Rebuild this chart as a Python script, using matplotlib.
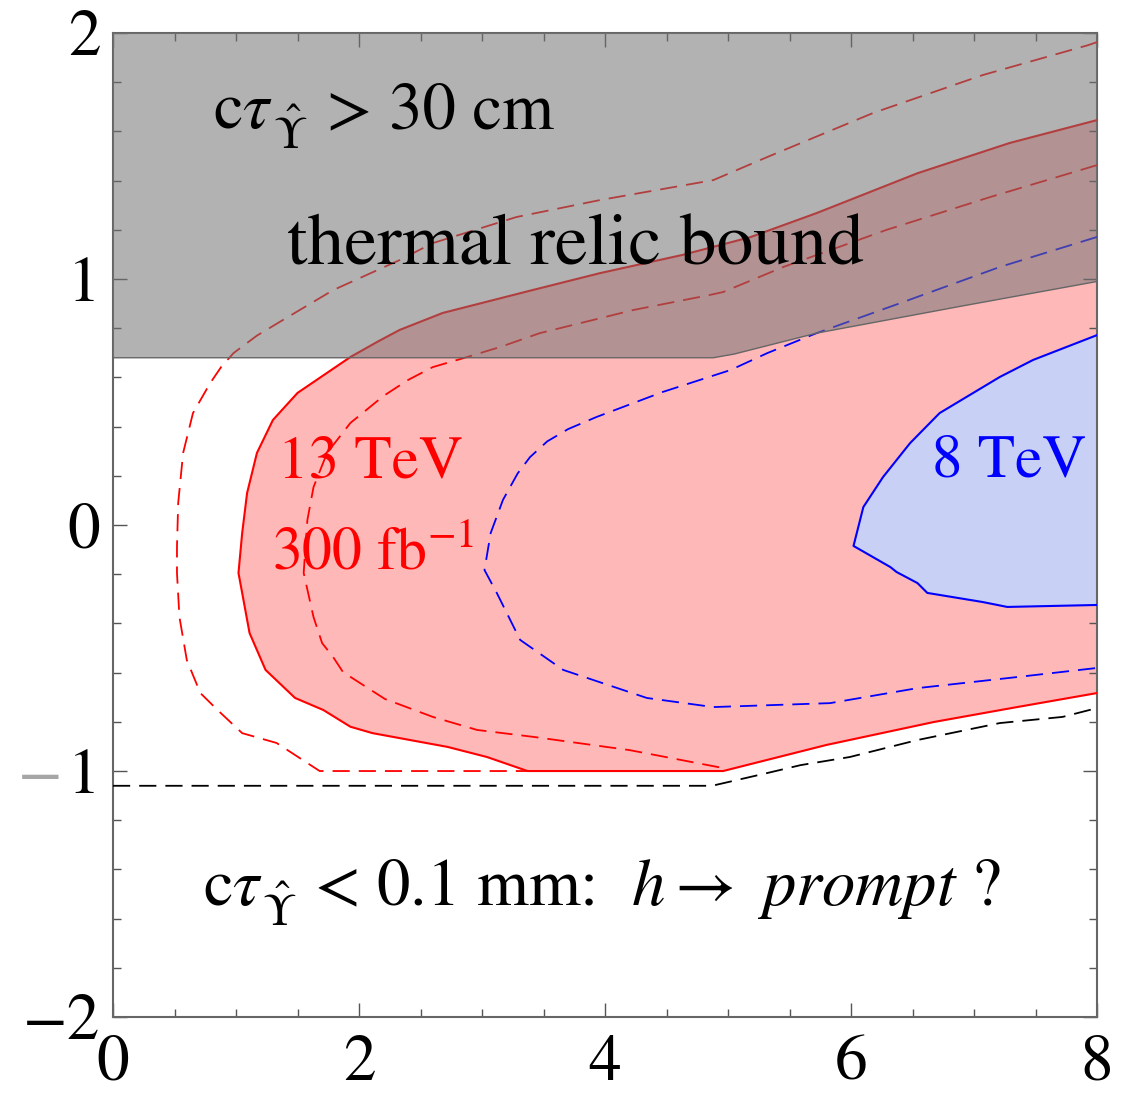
import numpy as np
import matplotlib
matplotlib.use("Agg")
import matplotlib.pyplot as plt
from matplotlib.ticker import MultipleLocator, FuncFormatter
from matplotlib.transforms import blended_transform_factory

plt.rcParams['font.family'] = ['STIXGeneral', 'DejaVu Serif']
plt.rcParams['mathtext.fontset'] = 'stix'

# -----------------------------
# Contours
# -----------------------------
# 13 TeV, 300 fb^-1 (solid, filled)
red13_x = [8.0, 7.29, 6.54, 5.72, 5.18, 4.63, 3.96, 3.41, 2.68, 2.33, 2.15, 1.93, 1.50, 1.30, 1.17,
           1.09, 1.05, 1.02, 1.05, 1.11, 1.24, 1.48, 1.71, 1.93, 2.11, 2.72, 3.04, 3.37, 4.96,
           5.80, 6.67, 7.35, 8.0]
red13_y = [1.646, 1.553, 1.43, 1.268, 1.17, 1.098, 1.024, 0.955, 0.862, 0.793, 0.745, 0.683, 0.537,
           0.427, 0.293, 0.13, -0.033, -0.195, -0.276, -0.439, -0.589, -0.703, -0.752, -0.82,
           -0.846, -0.902, -0.943, -1.0, -1.0, -0.894, -0.801, -0.74, -0.683]

# 13 TeV outer dashed
red_out_x = [8.0, 7.93, 7.07, 6.18, 5.32, 4.88, 3.96, 3.28, 2.60, 2.33, 1.79, 1.38, 1.17, 0.98,
             0.88, 0.79, 0.65, 0.57, 0.53, 0.52, 0.52, 0.54, 0.60, 0.71, 0.85, 1.05, 1.33, 1.68,
             3.37]
red_out_y = [1.963, 1.951, 1.829, 1.675, 1.496, 1.402, 1.321, 1.252, 1.146, 1.077, 0.955, 0.833,
             0.770, 0.699, 0.643, 0.577, 0.455, 0.293, 0.09, -0.089, -0.195, -0.374, -0.549,
             -0.683, -0.752, -0.846, -0.886, -1.0, -1.0]

# 13 TeV inner dashed
red_in_x = [8.0, 7.13, 6.29, 5.45, 4.96, 4.85, 4.23, 3.47, 3.15, 2.88, 2.60, 2.40, 2.20, 1.93,
            1.74, 1.63, 1.58, 1.55, 1.63, 1.70, 1.79, 1.87, 2.21, 2.60, 2.96, 3.43, 4.20, 4.93]
red_in_y = [1.463, 1.333, 1.20, 1.049, 0.947, 0.935, 0.874, 0.78, 0.724, 0.683, 0.642, 0.59,
            0.525, 0.415, 0.293, 0.154, 0.02, -0.195, -0.374, -0.48, -0.537, -0.598,
            -0.707, -0.78, -0.833, -0.862, -0.915, -0.985]

# 8 TeV (solid, filled)
blue8_x = [8.0, 7.48, 7.21, 6.72, 6.48, 6.26, 6.10, 6.02, 6.32, 6.37, 6.54, 6.62, 7.07, 7.27, 8.0]
blue8_y = [0.772, 0.671, 0.602, 0.455, 0.333, 0.195, 0.073, -0.085, -0.171, -0.191, -0.236,
           -0.276, -0.313, -0.333, -0.325]

# 8 TeV dashed
blue_d_x = [8.0, 7.21, 6.40, 5.72, 5.32, 5.02, 4.47, 3.93, 3.70, 3.53, 3.39, 3.29, 3.17, 3.07,
            3.02, 3.12, 3.31, 3.66, 4.34, 4.88, 5.83, 6.54, 7.35, 8.0]
blue_d_y = [1.171, 1.049, 0.902, 0.78, 0.699, 0.63, 0.541, 0.439, 0.39, 0.340, 0.276, 0.21,
            0.102, -0.033, -0.183, -0.276, -0.467, -0.589, -0.703, -0.74, -0.724, -0.663,
            -0.618, -0.581]

# ctau < 0.1 mm
prompt_x = [0.0, 4.87, 5.32, 5.59, 5.99, 6.54, 7.21, 7.72, 8.0]
prompt_y = [-1.06, -1.06, -1.008, -0.976, -0.943, -0.874, -0.805, -0.78, -0.744]

# ctau > 30 cm / thermal relic (lower edge of grey band)
relic_x = [0.0, 4.88, 5.05, 5.72, 6.9, 8.0]
relic_y = [0.68, 0.68, 0.695, 0.78, 0.89, 0.99]

# -----------------------------
# Figure
# -----------------------------
fig = plt.figure(figsize=(11.29, 10.93), dpi=100)
ax = fig.add_axes([0.1001, 0.0695, 0.8716, 0.9003])

ax.fill(red13_x, red13_y, color='#ffb8b8', lw=0, zorder=1)
ax.plot(red13_x, red13_y, color='red', lw=1.5, zorder=3)
ax.fill(blue8_x, blue8_y, color='#c8d0f5', lw=0, zorder=2)
ax.plot(blue8_x, blue8_y, color='blue', lw=1.5, zorder=3)

dash = (0, (9.5, 5))
ax.plot(red_out_x, red_out_y, color='red', lw=1.3, ls=dash, zorder=3)
ax.plot(red_in_x, red_in_y, color='red', lw=1.3, ls=dash, zorder=3)
ax.plot(blue_d_x, blue_d_y, color='blue', lw=1.3, ls=dash, zorder=3)
ax.plot(prompt_x, prompt_y, color='black', lw=1.3, ls=dash, zorder=3)

# grey band drawn on top, semi transparent
ax.fill(relic_x + [8.0, 0.0], relic_y + [2.0, 2.0], facecolor='#737373', alpha=0.55,
        lw=0, zorder=4)
ax.plot(relic_x, relic_y, color='#666666', lw=1.0, zorder=4)

# texts
ax.text(0.81, 1.614, r'c$\tau$', fontsize=48, zorder=5)
ax.text(1.30, 1.53, r'$\hat{\Upsilon}$', fontsize=33, zorder=5)
ax.text(1.74, 1.614, '> 30 cm', fontsize=48, zorder=5)
ax.text(1.415, 1.057, 'thermal relic bound', fontsize=53, zorder=5)
ax.text(1.34, 0.195, '13 TeV', fontsize=44, color='red', zorder=5)
ax.text(1.29, -0.175, r'300 fb$^{-1}$', fontsize=43, color='red', zorder=5)
ax.text(6.66, 0.199, '8 TeV', fontsize=44, color='blue', zorder=5)
ax.text(0.73, -1.545, r'c$\tau$', fontsize=48, zorder=5)
ax.text(1.21, -1.63, r'$\hat{\Upsilon}$', fontsize=33, zorder=5)
ax.text(1.63, -1.545, r'< 0.1 mm:  $h\rightarrow\ \mathit{prompt\ ?}$', fontsize=48, zorder=5)

ax.set_xlim(0, 8)
ax.set_ylim(-2, 2)
ax.xaxis.set_major_locator(MultipleLocator(2))
ax.xaxis.set_minor_locator(MultipleLocator(0.5))
ax.yaxis.set_major_locator(MultipleLocator(1))
ax.yaxis.set_minor_locator(MultipleLocator(0.2))


def ylab(v, pos):
    # the minus of -1 is drawn separately in grey
    if round(v) == -1:
        return '1'
    return f'{v:.0f}'.replace('-', '\u2212')


ax.yaxis.set_major_formatter(FuncFormatter(ylab))
ax.tick_params(which='both', direction='in', top=True, right=True, color='#555555',
               labelsize=47, width=1.0)
ax.tick_params(which='major', length=10, pad=9)
ax.tick_params(which='minor', length=6)
ax.tick_params(axis='x', which='major', pad=13)
trans = blended_transform_factory(ax.transAxes, ax.transData)
ax.text(-0.051, -1, '\u2212', transform=trans, ha='right', va='center_baseline',
        fontsize=47, color='#a6a6a6', clip_on=False)
for s in ax.spines.values():
    s.set_color('#666666')
    s.set_linewidth(1.5)

fig.savefig('out.png', dpi=100)
